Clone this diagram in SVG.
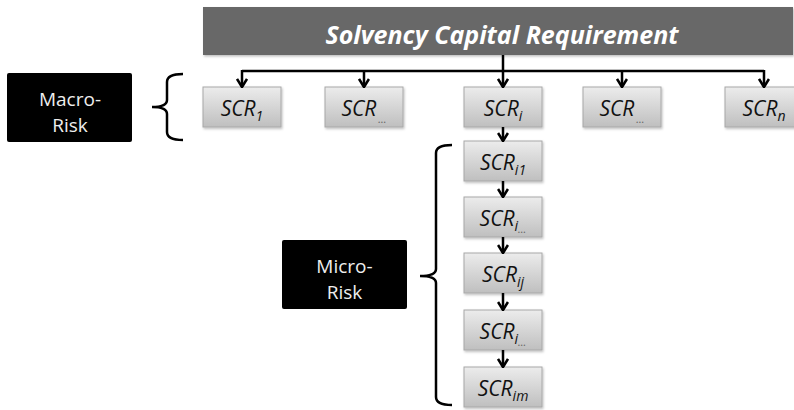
<svg xmlns="http://www.w3.org/2000/svg" width="794" height="410" viewBox="0 0 794 410">
<style>
.box{fill:url(#g);stroke:#a8a8a8;stroke-width:1;filter:url(#sh)}
.lbl{font-family:"Open Sans","Noto Sans",sans-serif;font-style:italic;font-size:21px;fill:#111;text-anchor:middle}
.sub{font-size:14px}
.dots{font-size:11px;fill:#666}
.risk{fill:#000}
.rt{font-family:"Open Sans","Noto Sans",sans-serif;font-size:19px;fill:#eee;text-anchor:middle}
.ln{stroke:#000;stroke-width:2.5;fill:none}
.br{stroke:#000;stroke-width:2.5;fill:none}
.title{font-family:"Open Sans","Noto Sans",sans-serif;font-style:italic;font-weight:bold;font-size:25px;fill:#fff;text-anchor:middle}
</style>
<defs>
<linearGradient id="g" x1="0" y1="0" x2="0" y2="1">
<stop offset="0" stop-color="#ececec"/>
<stop offset="1" stop-color="#bfbfbf"/>
</linearGradient>
<filter id="sh" x="-10%" y="-10%" width="130%" height="140%">
<feDropShadow dx="1" dy="1.5" stdDeviation="1" flood-color="#000" flood-opacity="0.25"/>
</filter>
<marker id="arr" viewBox="0 0 10 12" refX="9" refY="6" markerWidth="10" markerHeight="12" orient="auto" markerUnits="userSpaceOnUse">
<path d="M1,1 L9,6 L1,11" stroke="#000" stroke-width="2.6" fill="none"/>
</marker>
</defs>
<rect width="794" height="410" fill="#fff"/>

<g id="scr-total">
<rect x="203" y="7" width="590" height="48" fill="#686868" filter="url(#sh)"/>
<text class="title" x="502" y="44">Solvency Capital Requirement</text>
</g>

<g id="macro-risk">
<rect class="risk" x="7" y="73" width="125" height="69" rx="2"/>
<text class="rt" x="70" y="105.5">Macro-</text>
<text class="rt" x="70" y="131.5">Risk</text>
</g>
<g id="macro-brace">
<path class="br" d="M183,74 Q167,74 167,82 L167,100 Q167,107 152,107 Q167,107 167,114 L167,132 Q167,140 183,140"/>
</g>

<g id="micro-risk">
<rect class="risk" x="282" y="240" width="125" height="69" rx="2"/>
<text class="rt" x="344.5" y="272.5">Micro-</text>
<text class="rt" x="344.5" y="298.5">Risk</text>
</g>
<g id="micro-brace">
<path class="br" d="M452,145 Q436,145 436,153 L436,269 Q436,276 420,276 Q436,276 436,283 L436,397 Q436,405 452,405"/>
</g>

<g id="scr-1"><rect class="box" x="203" y="87" width="78" height="40"/><text class="lbl" x="242" y="116">SCR<tspan class="sub" dy="5">1</tspan></text></g>
<g id="scr-dots-a"><rect class="box" x="325" y="87" width="78" height="40"/><text class="lbl" x="364" y="116">SCR<tspan class="dots" dx="2" dy="7">...</tspan></text></g>
<g id="scr-i"><rect class="box" x="464" y="87" width="78" height="40"/><text class="lbl" x="503" y="116">SCR<tspan class="sub" dy="5">i</tspan></text></g>
<g id="scr-dots-b"><rect class="box" x="583" y="87" width="78" height="40"/><text class="lbl" x="622" y="116">SCR<tspan class="dots" dx="2" dy="7">...</tspan></text></g>
<g id="scr-n"><rect class="box" x="725" y="87" width="78" height="40"/><text class="lbl" x="764" y="116">SCR<tspan class="sub" dy="5">n</tspan></text></g>

<g id="scr-i1"><rect class="box" x="464" y="141" width="78" height="40"/><text class="lbl" x="503" y="170">SCR<tspan class="sub" dy="5">i1</tspan></text></g>
<g id="scr-i-dots-a"><rect class="box" x="464" y="197" width="78" height="40"/><text class="lbl" x="503" y="226">SCR<tspan class="sub" dy="5">i</tspan><tspan class="dots" dy="2">...</tspan></text></g>
<g id="scr-ij"><rect class="box" x="464" y="253" width="78" height="40"/><text class="lbl" x="503" y="282">SCR<tspan class="sub" dy="5">ij</tspan></text></g>
<g id="scr-i-dots-b"><rect class="box" x="464" y="310" width="78" height="40"/><text class="lbl" x="503" y="339">SCR<tspan class="sub" dy="5">i</tspan><tspan class="dots" dy="2">...</tspan></text></g>
<g id="scr-im"><rect class="box" x="464" y="367" width="78" height="40"/><text class="lbl" x="503" y="396">SCR<tspan class="sub" dy="5">im</tspan></text></g>

<g id="connectors">
<path class="ln" d="M242,71 L764,71"/>
<path class="ln" d="M503,55 L503,87" marker-end="url(#arr)"/>
<path class="ln" d="M242,70 L242,87" marker-end="url(#arr)"/>
<path class="ln" d="M364,71 L364,87" marker-end="url(#arr)"/>
<path class="ln" d="M622,71 L622,87" marker-end="url(#arr)"/>
<path class="ln" d="M764,70 L764,87" marker-end="url(#arr)"/>
<path class="ln" d="M503,127 L503,141" marker-end="url(#arr)"/>
<path class="ln" d="M503,181 L503,197" marker-end="url(#arr)"/>
<path class="ln" d="M503,237 L503,253" marker-end="url(#arr)"/>
<path class="ln" d="M503,293 L503,310" marker-end="url(#arr)"/>
<path class="ln" d="M503,350 L503,367" marker-end="url(#arr)"/>
</g>
</svg>
